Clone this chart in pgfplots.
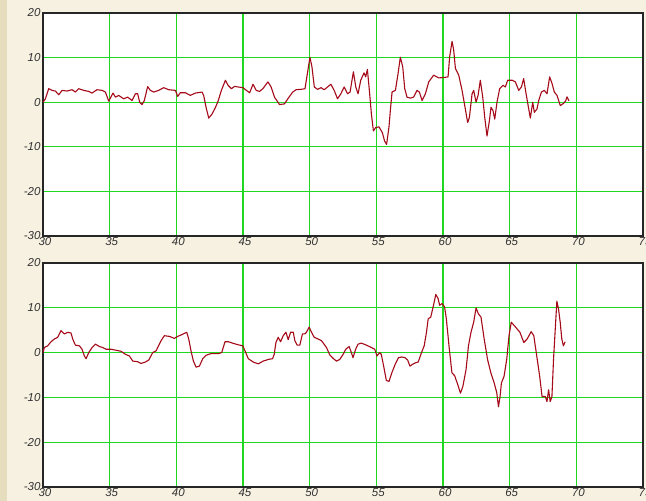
\documentclass[border=0pt]{standalone}
\usepackage{fontspec}
\setmainfont{Liberation Sans}
\usepackage{pgfplots}
\pgfplotsset{compat=1.18}
\definecolor{bgcol}{RGB}{247,241,226}
\definecolor{stripe}{RGB}{230,220,190}
\definecolor{gridgreen}{RGB}{30,215,30}
\definecolor{curve}{RGB}{165,10,25}
\definecolor{labgray}{RGB}{50,50,50}
\begin{document}
\begin{tikzpicture}
\path[use as bounding box] (0pt,0pt) rectangle (646pt,501pt);
\fill[bgcol] (0pt,0pt) rectangle (646pt,501pt);
\fill[stripe] (0pt,0pt) rectangle (7pt,501pt);
\pgfplotsset{
  myax/.style={
    scale only axis, width=600pt,
    xmin=30, xmax=75, ymin=-30, ymax=20,
    xtick={30,35,40,45,50,55,60,65,70,75},
    xticklabels={30,35,40,45,50,55,60,65,70,75},
    ytick={-30,-20,-10,0,10,20},
    yticklabels={-30,-20,-10,0,10,20},
    grid=major,
    major grid style={gridgreen, line width=1.2pt},
    major tick length=0pt,
    axis background/.style={fill=white},
    axis line style={black!85, line width=1.3pt},
    ticklabel style={font=\fontsize{11.5}{12}\selectfont\itshape, text=labgray},
    xticklabel style={yshift=2pt, xshift=2pt},
    yticklabel style={xshift=1pt},
    clip=false,
  }
}
\begin{axis}[myax, at={(43pt,265pt)}, anchor=south west, height=223pt]
\addplot[curve, line width=1.1pt, line join=round] table {
x y
30.0 0
30.18 0.76
30.43 3.03
30.68 2.65
30.93 2.5
31.18 1.67
31.43 2.65
31.8 2.5
32.18 2.8
32.43 2.27
32.68 3.03
33.05 2.65
33.43 2.42
33.68 2.05
34.05 2.8
34.43 2.65
34.68 2.27
34.93 0.23
35.25 2.05
35.43 1.14
35.68 1.52
36.05 0.76
36.35 1.14
36.68 0.38
36.93 1.9
37.1 1.9
37.25 0
37.43 -0.53
37.6 0.38
37.85 3.5
38.05 2.65
38.3 2.27
38.68 2.65
39.05 3.26
39.43 2.8
39.93 2.65
40.1 1.29
40.3 2.12
40.68 2.12
41.05 1.52
41.43 2.05
41.93 2.27
42.05 1.52
42.23 -1.14
42.43 -3.56
42.68 -2.65
42.93 -1.2
43.13 0.23
43.38 2.65
43.68 4.92
43.88 3.79
44.13 3.03
44.38 3.56
44.63 3.41
45.0 3.26
45.25 2.65
45.5 2.12
45.75 4.02
45.99 2.65
46.24 2.42
46.49 3.03
46.87 4.55
47.11 3.41
47.36 1.14
47.74 -0.53
48.11 -0.38
48.36 0.76
48.73 2.27
48.98 2.8
49.35 2.88
49.65 3.03
49.85 6.82
50.02 10.08
50.17 7.95
50.35 3.41
50.6 2.88
50.85 3.26
51.09 2.8
51.34 3.41
51.59 4.02
51.84 2.65
52.09 0.76
52.34 1.89
52.59 3.41
52.84 1.89
53.03 2.27
53.28 6.82
53.46 3.41
53.63 1.89
53.83 4.92
54.08 6.59
54.2 5.68
54.33 7.35
54.5 1.89
54.63 -2.65
54.78 -6.44
54.95 -5.68
55.2 -5.53
55.45 -6.82
55.62 -8.71
55.77 -9.47
55.95 -5.5
56.05 -1.89
56.18 2.27
56.43 2.65
56.63 6.44
56.8 10.08
56.98 7.95
57.13 3.03
57.3 1.14
57.55 0.91
57.8 1.14
58.05 2.65
58.23 2.27
58.43 0.38
58.68 1.89
58.93 4.55
59.3 6.06
59.68 5.45
60.05 5.53
60.38 5.68
60.5 10.23
60.68 13.64
60.8 11.74
60.93 7.58
61.18 6.06
61.43 2.65
61.63 -0.76
61.85 -4.55
61.98 -3.41
62.18 1.89
62.3 2.65
62.48 0
62.63 1.52
62.8 4.92
62.98 1.14
63.13 -3.41
63.3 -7.58
63.48 -4.17
63.6 -1.14
63.75 -1.89
63.88 -3.79
64.05 0
64.25 3.03
64.5 3.79
64.68 3.41
64.85 4.92
65.18 4.92
65.43 4.55
65.68 2.65
65.88 3.41
66.05 5.3
66.23 1.89
66.43 -1.52
66.55 -3.56
66.73 0
66.85 -2.27
67.05 -1.52
67.18 0.38
67.38 2.27
67.6 2.65
67.8 1.89
68.0 5.68
68.18 4.17
68.35 2.27
68.55 1.52
68.8 -0.76
69.05 -0.23
69.2 0.3
69.3 1.2
69.45 0.3
};
\end{axis}
\begin{axis}[myax, at={(43pt,14pt)}, anchor=south west, height=224pt]
\addplot[curve, line width=1.1pt, line join=round] table {
x y
30.0 0
30.1 1.13
30.35 1.51
30.6 2.42
30.85 3.02
31.1 3.4
31.35 4.91
31.6 4.15
31.85 4.53
32.1 4.38
32.23 3.02
32.43 1.66
32.73 1.51
32.93 0.75
33.1 -0.75
33.23 -1.36
33.43 0
33.68 1.13
33.93 1.89
34.23 1.36
34.48 1.13
34.73 0.75
35.1 0.75
35.48 0.53
35.85 0.3
36.18 -0.38
36.48 -0.75
36.73 -1.89
37.1 -2.04
37.35 -2.42
37.68 -2.11
37.93 -1.66
38.23 0
38.48 0.38
38.85 2.64
39.1 3.77
39.48 3.62
39.85 3.17
40.1 3.62
40.35 3.92
40.6 4.3
40.78 4.53
40.93 3.02
41.1 0.38
41.28 -1.89
41.48 -3.25
41.73 -3.02
41.98 -1.36
42.23 -0.6
42.6 -0.23
42.98 -0.23
43.15 -0.23
43.4 0
43.65 2.42
43.9 2.42
44.28 2.05
44.65 1.74
44.98 1.52
45.15 0.38
45.4 -1.36
45.77 -2.12
46.15 -2.5
46.52 -1.89
46.9 -1.52
47.22 -1.36
47.34 -0.38
47.47 2.27
47.64 3.41
47.82 2.42
48.02 3.79
48.22 4.55
48.39 2.88
48.57 4.55
48.77 4.55
48.89 2.65
49.06 1.67
49.26 1.67
49.46 4.17
49.64 4.17
49.76 4.55
49.96 5.68
50.14 4.55
50.34 3.41
50.64 3.03
50.89 2.65
51.26 1.14
51.51 -0.53
51.76 -1.29
52.01 -1.89
52.26 -1.52
52.51 -0.38
52.71 0.76
52.96 1.36
53.13 0
53.25 -1.14
53.45 0.76
53.63 1.89
53.88 2.12
54.25 1.67
54.63 1.14
54.88 0.76
55.05 -0.76
55.25 0
55.37 -0.38
55.55 -3.03
55.75 -6.21
55.95 -6.44
56.16 -4.53
56.41 -2.64
56.66 -1.13
56.91 -0.98
57.15 -1.13
57.35 -1.66
57.52 -3.02
57.7 -2.64
57.95 -2.26
58.14 -2.11
58.39 0
58.59 1.51
58.76 4.53
58.89 7.55
59.08 7.92
59.26 10.19
59.46 12.98
59.63 12.08
59.75 10.57
59.93 10.94
60.12 10.19
60.25 7.55
60.45 1.51
60.67 -4.53
60.87 -5.13
61.11 -7.17
61.31 -9.06
61.49 -7.55
61.73 -3.77
61.91 1.51
62.1 4.53
62.3 6.79
62.48 9.96
62.65 8.68
62.85 7.92
63.09 3.02
63.34 -1.51
63.59 -4.53
63.84 -6.79
64.03 -8.91
64.16 -12.08
64.28 -9.81
64.38 -6.79
64.58 -5.28
64.78 -1.51
64.95 3.77
65.12 6.79
65.45 5.66
65.77 4.53
66.06 2.26
66.31 3.02
66.61 4.68
66.81 3.77
67.05 -1.13
67.25 -5.28
67.43 -9.81
67.67 -9.81
67.8 -10.94
67.92 -8.3
68.04 -10.94
68.17 -9.81
68.29 -1.51
68.42 5.28
68.54 11.47
68.66 9.81
68.79 6.79
68.91 3.02
69.03 1.51
69.16 2.42
};
\end{axis}
\end{tikzpicture}
\end{document}
